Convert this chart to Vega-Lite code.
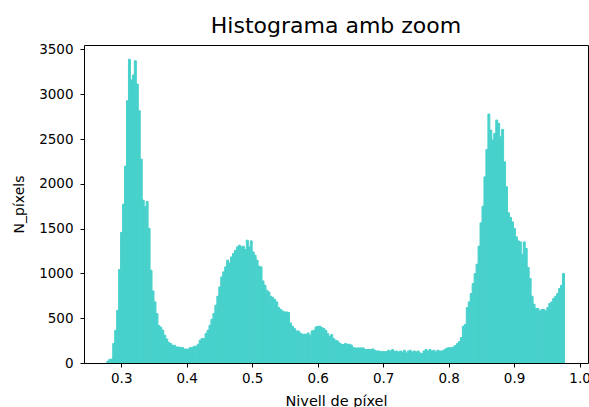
{
  "$schema": "https://vega.github.io/schema/vega-lite/v6.json",
  "width": 504,
  "height": 318,
  "autosize": {"type": "none"},
  "padding": {"left": 84, "top": 45, "right": 1, "bottom": 44},
  "background": "white",
  "title": {"text": "Histograma amb zoom", "font": "DejaVu Sans", "fontSize": 22, "fontWeight": "normal", "color": "black", "anchor": "middle", "offset": 4},
  "data": {"values": [
    {"x":0.2795,"n":20},{"x":0.2825,"n":40},{"x":0.2855,"n":45},{"x":0.2885,"n":217},{"x":0.2915,"n":365},{"x":0.2945,"n":588},{"x":0.2975,"n":1043},{"x":0.3005,"n":1457},{"x":0.3035,"n":1773},{"x":0.3065,"n":2198},
    {"x":0.3095,"n":2927},{"x":0.3125,"n":3390},{"x":0.3155,"n":3159},{"x":0.3185,"n":3215},{"x":0.3215,"n":3374},{"x":0.3245,"n":3114},{"x":0.3275,"n":2816},{"x":0.3305,"n":2276},{"x":0.3335,"n":1818},{"x":0.3365,"n":1743},
    {"x":0.3395,"n":1803},{"x":0.3425,"n":1502},{"x":0.3455,"n":1036},{"x":0.3485,"n":804},{"x":0.3515,"n":682},{"x":0.3545,"n":552},{"x":0.3575,"n":418},{"x":0.3605,"n":399},{"x":0.3635,"n":365},{"x":0.3665,"n":310},
    {"x":0.3695,"n":268},{"x":0.3725,"n":231},{"x":0.3755,"n":217},{"x":0.3785,"n":198},{"x":0.3815,"n":198},{"x":0.3845,"n":179},{"x":0.3875,"n":179},{"x":0.3905,"n":172},{"x":0.3935,"n":172},{"x":0.3965,"n":156},
    {"x":0.3995,"n":156},{"x":0.4025,"n":156},{"x":0.4055,"n":172},{"x":0.4085,"n":172},{"x":0.4115,"n":187},{"x":0.4145,"n":187},{"x":0.4175,"n":209},{"x":0.4205,"n":254},{"x":0.4235,"n":273},{"x":0.4265,"n":273},
    {"x":0.4295,"n":328},{"x":0.4325,"n":365},{"x":0.4355,"n":421},{"x":0.4385,"n":488},{"x":0.4415,"n":552},{"x":0.4445,"n":645},{"x":0.4475,"n":745},{"x":0.4505,"n":849},{"x":0.4535,"n":961},{"x":0.4565,"n":1017},
    {"x":0.4595,"n":1073},{"x":0.4625,"n":1148},{"x":0.4655,"n":1117},{"x":0.4685,"n":1184},{"x":0.4715,"n":1222},{"x":0.4745,"n":1259},{"x":0.4775,"n":1296},{"x":0.4805,"n":1315},{"x":0.4835,"n":1296},{"x":0.4865,"n":1304},
    {"x":0.4895,"n":1267},{"x":0.4925,"n":1371},{"x":0.4955,"n":1296},{"x":0.4985,"n":1363},{"x":0.5015,"n":1240},{"x":0.5045,"n":1203},{"x":0.5075,"n":1148},{"x":0.5105,"n":1080},{"x":0.5135,"n":1073},{"x":0.5165,"n":916},
    {"x":0.5195,"n":868},{"x":0.5225,"n":812},{"x":0.5255,"n":793},{"x":0.5285,"n":745},{"x":0.5315,"n":730},{"x":0.5345,"n":708},{"x":0.5375,"n":682},{"x":0.5405,"n":619},{"x":0.5435,"n":597},{"x":0.5465,"n":581},
    {"x":0.5495,"n":570},{"x":0.5525,"n":570},{"x":0.5555,"n":565},{"x":0.5585,"n":447},{"x":0.5615,"n":410},{"x":0.5645,"n":384},{"x":0.5675,"n":358},{"x":0.5705,"n":358},{"x":0.5735,"n":335},{"x":0.5765,"n":321},
    {"x":0.5795,"n":321},{"x":0.5825,"n":321},{"x":0.5855,"n":335},{"x":0.5885,"n":310},{"x":0.5915,"n":358},{"x":0.5945,"n":365},{"x":0.5975,"n":402},{"x":0.6005,"n":410},{"x":0.6035,"n":410},{"x":0.6065,"n":395},
    {"x":0.6095,"n":384},{"x":0.6125,"n":365},{"x":0.6155,"n":328},{"x":0.6185,"n":298},{"x":0.6215,"n":317},{"x":0.6245,"n":273},{"x":0.6275,"n":254},{"x":0.6305,"n":246},{"x":0.6335,"n":223},{"x":0.6365,"n":209},
    {"x":0.6395,"n":205},{"x":0.6425,"n":217},{"x":0.6455,"n":209},{"x":0.6485,"n":209},{"x":0.6515,"n":201},{"x":0.6545,"n":172},{"x":0.6575,"n":168},{"x":0.6605,"n":168},{"x":0.6635,"n":168},{"x":0.6665,"n":168},
    {"x":0.6695,"n":168},{"x":0.6725,"n":150},{"x":0.6755,"n":150},{"x":0.6785,"n":150},{"x":0.6815,"n":150},{"x":0.6845,"n":157},{"x":0.6875,"n":142},{"x":0.6905,"n":134},{"x":0.6935,"n":134},{"x":0.6965,"n":127},
    {"x":0.6995,"n":127},{"x":0.7025,"n":127},{"x":0.7055,"n":127},{"x":0.7085,"n":142},{"x":0.7115,"n":134},{"x":0.7145,"n":150},{"x":0.7175,"n":127},{"x":0.7205,"n":134},{"x":0.7235,"n":123},{"x":0.7265,"n":134},
    {"x":0.7295,"n":123},{"x":0.7325,"n":142},{"x":0.7355,"n":112},{"x":0.7385,"n":134},{"x":0.7415,"n":142},{"x":0.7445,"n":123},{"x":0.7475,"n":134},{"x":0.7505,"n":123},{"x":0.7535,"n":134},{"x":0.7565,"n":112},
    {"x":0.7595,"n":105},{"x":0.7625,"n":134},{"x":0.7655,"n":150},{"x":0.7685,"n":134},{"x":0.7715,"n":150},{"x":0.7745,"n":134},{"x":0.7775,"n":142},{"x":0.7805,"n":123},{"x":0.7835,"n":142},{"x":0.7865,"n":134},
    {"x":0.7895,"n":134},{"x":0.7925,"n":142},{"x":0.7955,"n":157},{"x":0.7985,"n":168},{"x":0.8015,"n":172},{"x":0.8045,"n":170},{"x":0.8075,"n":179},{"x":0.8105,"n":195},{"x":0.8135,"n":217},{"x":0.8165,"n":240},
    {"x":0.8195,"n":284},{"x":0.8225,"n":410},{"x":0.8255,"n":430},{"x":0.8285,"n":619},{"x":0.8315,"n":682},{"x":0.8345,"n":775},{"x":0.8375,"n":887},{"x":0.8405,"n":999},{"x":0.8435,"n":1103},{"x":0.8465,"n":1304},
    {"x":0.8495,"n":1564},{"x":0.8525,"n":1751},{"x":0.8555,"n":2078},{"x":0.8585,"n":2384},{"x":0.8615,"n":2779},{"x":0.8645,"n":2600},{"x":0.8675,"n":2488},{"x":0.8705,"n":2563},{"x":0.8735,"n":2712},{"x":0.8765,"n":2675},
    {"x":0.8795,"n":2525},{"x":0.8825,"n":2608},{"x":0.8855,"n":2246},{"x":0.8885,"n":1967},{"x":0.8915,"n":1676},{"x":0.8945,"n":1625},{"x":0.8975,"n":1575},{"x":0.9005,"n":1502},{"x":0.9035,"n":1408},{"x":0.9065,"n":1363},
    {"x":0.9095,"n":1352},{"x":0.9125,"n":1214},{"x":0.9155,"n":1352},{"x":0.9185,"n":1278},{"x":0.9215,"n":1066},{"x":0.9245,"n":943},{"x":0.9275,"n":745},{"x":0.9305,"n":656},{"x":0.9335,"n":608},{"x":0.9365,"n":608},
    {"x":0.9395,"n":581},{"x":0.9425,"n":597},{"x":0.9455,"n":597},{"x":0.9485,"n":581},{"x":0.9515,"n":619},{"x":0.9545,"n":664},{"x":0.9575,"n":682},{"x":0.9605,"n":720},{"x":0.9635,"n":745},{"x":0.9665,"n":775},
    {"x":0.9695,"n":831},{"x":0.9725,"n":868},{"x":0.9755,"n":999}
  ]},
  "transform": [
    {"bin": {"extent": [0.278, 0.9775], "step": 0.003, "nice": false}, "field": "x", "as": "b0"}
  ],
  "mark": {"type": "bar", "color": "#48D1CC", "stroke": "#48D1CC", "strokeWidth": 1, "clip": true},
  "encoding": {
    "x": {
      "field": "b0", "type": "quantitative",
      "scale": {"domain": [0.2431, 1.0129], "nice": false, "zero": false},
      "axis": {"title": "Nivell de píxel", "values": [0.3, 0.4, 0.5, 0.6, 0.7, 0.8, 0.9, 1.0], "format": ".1f", "labelPadding": 4, "titlePadding": 10, "titleFontSize": 14.5}
    },
    "x2": {"field": "b0_end"},
    "y": {
      "field": "n", "type": "quantitative",
      "scale": {"domain": [0, 3550], "nice": false},
      "axis": {"title": "N_píxels", "values": [0, 500, 1000, 1500, 2000, 2500, 3000, 3500], "format": "d", "labelPadding": 7, "titlePadding": 12, "titleFontSize": 14}
    },
    "y2": {"datum": 0}
  },
  "config": {
    "view": {"stroke": "black", "strokeWidth": 1},
    "axis": {
      "domain": false, "grid": false,
      "ticks": true, "tickColor": "black", "tickSize": 4, "tickWidth": 1,
      "labelFont": "DejaVu Sans", "labelFontSize": 13.5, "labelColor": "black",
      "titleFont": "DejaVu Sans", "titleFontWeight": "normal", "titleColor": "black"
    }
  }
}
